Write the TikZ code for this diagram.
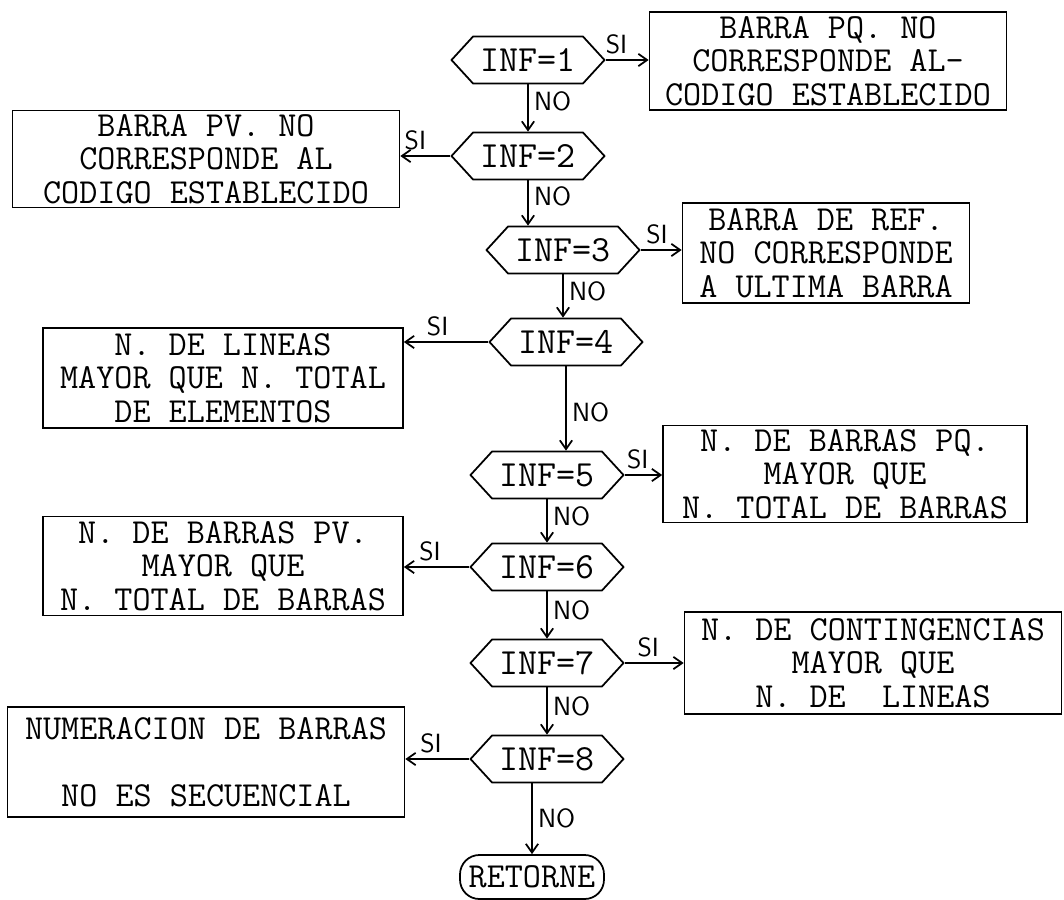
\documentclass[tikz,border=0pt]{standalone}
\usetikzlibrary{shapes.symbols, arrows.meta}

\begin{document}
\begin{tikzpicture}[
      x=0.02cm, y=-0.02cm,
      >={Straight Barb[length=5pt,width=7pt]},
      decision/.style={
        draw,
        signal,
        signal to=west and east,
        signal pointer angle=95,
        minimum width=3.06cm,
        minimum height=0.94cm,
        inner sep=1pt,
        font=\fontsize{21}{19}\selectfont\ttfamily,
        line width=1pt
      },
      msgbox/.style={
        draw,
        align=center,
        inner sep=2pt,
        font=\fontsize{20}{19.2}\selectfont\ttfamily,
        line width=1pt
      },
      stopbox/.style={
        draw,
        rounded corners=11pt,
        minimum width=2.88cm,
        minimum height=0.88cm,
        inner sep=0pt,
        font=\fontsize{20}{19}\selectfont\ttfamily,
        line width=1pt
      },
      flow/.style={->, line width=1pt},
      silabel/.style={above, inner sep=3pt, font=\sffamily\fontsize{15}{15}\selectfont},
      nolabel/.style={right, inner sep=3pt, font=\sffamily\fontsize{15}{15}\selectfont}
    ]
    \useasboundingbox (0,0) rectangle (1064,899);

    % Decision nodes
    \node[decision] (inf1) at (528,60) {INF=1};
    \node[decision] (inf2) at (528,156) {INF=2};
    \node[decision] (inf3) at (563,250) {INF=3};
    \node[decision] (inf4) at (566,342) {INF=4};
    \node[decision] (inf5) at (547,475) {INF=5};
    \node[decision] (inf6) at (547,567) {INF=6};
    \node[decision] (inf7) at (547,663) {INF=7};
    \node[decision] (inf8) at (547,759) {INF=8};
    \node[stopbox] (ret) at (532,877) {RETORNE};

    % Message boxes
    \node[msgbox, minimum width=7.14cm, minimum height=1.96cm] (msgpq) at (828,61)
      {BARRA PQ. NO\\CORRESPONDE AL-\\CODIGO ESTABLECIDO};
    \node[msgbox, minimum width=7.74cm, minimum height=1.84cm] (msgpv) at (206,159)
      {BARRA PV. NO\\CORRESPONDE AL\\CODIGO ESTABLECIDO};
    \node[msgbox, minimum width=5.74cm, minimum height=2.0cm] (msgref) at (826,253)
      {BARRA DE REF.\\NO CORRESPONDE\\A ULTIMA BARRA};
    \node[msgbox, minimum width=7.2cm, minimum height=2.0cm] (msglin) at (223,378)
      {N. DE LINEAS\\MAYOR QUE N. TOTAL\\DE ELEMENTOS};
    \node[msgbox, minimum width=7.28cm, minimum height=1.94cm] (msgnpq) at (845,474)
      {N. DE BARRAS PQ.\\MAYOR QUE\\N. TOTAL DE BARRAS};
    \node[msgbox, minimum width=7.2cm, minimum height=1.98cm] (msgnpv) at (223,566)
      {N. DE BARRAS PV.\\MAYOR QUE\\N. TOTAL DE BARRAS};
    \node[msgbox, minimum width=7.54cm, minimum height=2.04cm] (msgcont) at (873,663)
      {N. DE CONTINGENCIAS\\MAYOR QUE\\N. DE\ \ LINEAS};
    \node[msgbox, minimum width=7.94cm, minimum height=2.2cm] (msgnum) at (206,762)
      {NUMERACION DE BARRAS\\~\\NO ES SECUENCIAL};

    % SI branches
    \draw[flow] (inf1.east) -- node[silabel, pos=0.25] {SI} (inf1.east -| msgpq.west);
    \draw[flow] (inf2.west) -- node[silabel, pos=0.7] {SI} (inf2.west -| msgpv.east);
    \draw[flow] (inf3.east) -- node[silabel, pos=0.4] {SI} (inf3.east -| msgref.west);
    \draw[flow] (inf4.west) -- node[silabel, pos=0.6] {SI} (inf4.west -| msglin.east);
    \draw[flow] (inf5.east) -- node[silabel, pos=0.35] {SI} (inf5.east -| msgnpq.west);
    \draw[flow] (inf6.west) -- node[silabel, pos=0.6] {SI} (inf6.west -| msgnpv.east);
    \draw[flow] (inf7.east) -- node[silabel, pos=0.4] {SI} (inf7.east -| msgcont.west);
    \draw[flow] (inf8.west) -- node[silabel, pos=0.6] {SI} (inf8.west -| msgnum.east);

    % NO branches
    \draw[flow] (inf1.south) -- node[nolabel, pos=0.35] {NO} (inf2.north);
    \draw[flow] (inf2.south) -- node[nolabel, pos=0.35] {NO} (inf2.south |- inf3.north);
    \draw[flow] (inf3.south) -- node[nolabel, pos=0.4] {NO} (inf3.south |- inf4.north);
    \draw[flow] (inf4.south) -- node[nolabel, pos=0.55] {NO} (inf4.south |- inf5.north);
    \draw[flow] (inf5.south) -- node[nolabel, pos=0.4] {NO} (inf6.north);
    \draw[flow] (inf6.south) -- node[nolabel, pos=0.4] {NO} (inf7.north);
    \draw[flow] (inf7.south) -- node[nolabel, pos=0.4] {NO} (inf8.north);
    \draw[flow] (ret.north |- inf8.south) -- node[nolabel, pos=0.5] {NO} (ret.north);

  \end{tikzpicture}
\end{document}
